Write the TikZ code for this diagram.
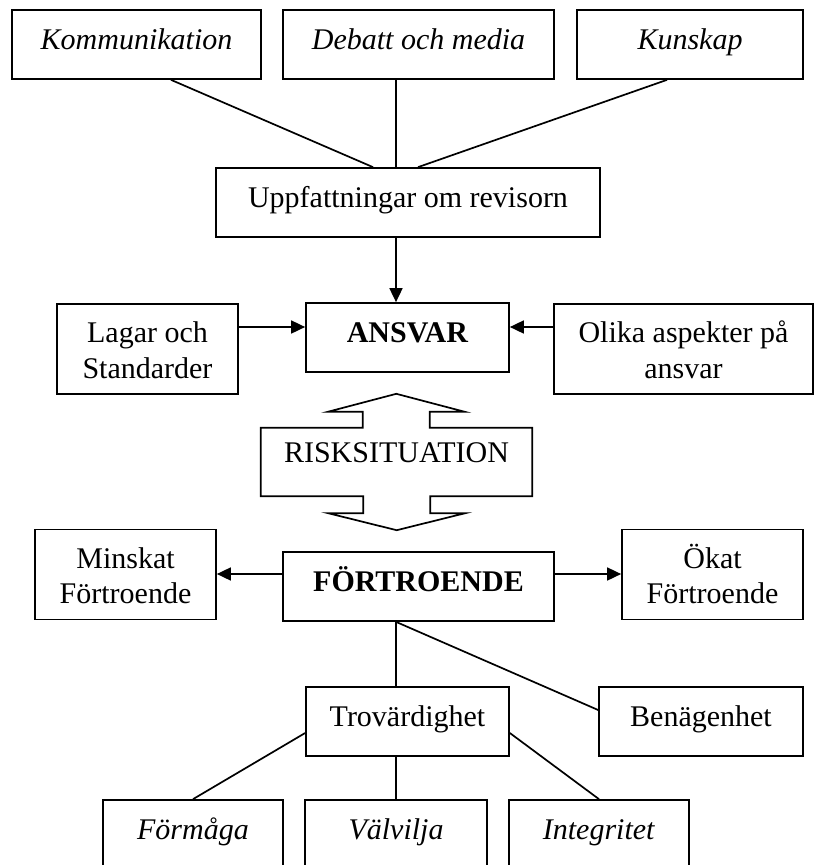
\documentclass[tikz,border=0pt]{standalone}
\usepackage{fontspec}
\setmainfont{Liberation Serif}
\usetikzlibrary{arrows.meta, calc}
\tikzset{
  block/.style={draw, line width=1.7pt, inner xsep=0pt, inner ysep=0pt, align=center, text height=39pt, text depth=30pt},
  block2/.style={block, text height=74pt, text depth=16pt},
  arr/.style={-{Triangle[length=14pt, width=13pt]}, line width=1.7pt},
  link/.style={line width=1.7pt},
  outline/.style={line width=1.7pt, line join=miter}
}
\begin{document}
\begin{tikzpicture}[x=1pt, y=-1pt, font=\fontsize{30}{35.5}\selectfont]
\useasboundingbox (0,0) rectangle (814,865);
\clip (0,0) rectangle (814,865);
% top row
\node[block, minimum width=249pt] (komm) at (136.5,44.5) {\textit{Kommunikation}};
\node[block, minimum width=271pt] (debatt) at (418.5,44.5) {\textit{Debatt och media}};
\node[block, minimum width=226pt] (kunskap) at (690,44.5) {\textit{Kunskap}};
\node[block, minimum width=384pt] (uppf) at (408,202.5) {Uppfattningar om revisorn};
% ansvar row
\node[block, minimum width=203pt] (ansvar) at (407.5,337.5) {\textbf{ANSVAR}};
\node[block2, minimum width=181pt] (lagar) at (147.5,349) {Lagar och\\Standarder};
\node[block2, minimum width=259pt] (olika) at (683.5,349) {Olika aspekter på\\ansvar};
% risk situation
\node[minimum width=271pt, inner sep=0pt, text height=34pt, text depth=34pt] (risk) at (396.5,462) {RISKSITUATION};
\draw[outline] (risk.north west) -- ++(102,0) -- ++(0,-16) -- ++(-35,0) -- ++(68.5,-18) -- ++(68.5,18) -- ++(-35,0) -- ++(0,16)
  -- (risk.north east) -- (risk.south east) -- ++(-102,0) -- ++(0,17) -- ++(35,0) -- ++(-68.5,17) -- ++(-68.5,-17) -- ++(35,0) -- ++(0,-17)
  -- (risk.south west) -- cycle;
% fortroende row
\node[block, minimum width=271pt] (fortr) at (418.5,586.5) {\textbf{FÖRTROENDE}};
\node[block2, minimum width=181pt] (minskat) at (125.5,574.5) {Minskat\\Förtroende};
\node[block2, minimum width=181pt] (okat) at (712.5,574.5) {Ökat\\Förtroende};
\node[block, minimum width=203pt] (trov) at (407.5,721.5) {Trovärdighet};
\node[block, minimum width=204pt] (benag) at (701,721.5) {Benägenhet};
% bottom row
\node[block, minimum width=180pt] (formaga) at (193,834.5) {\textit{Förmåga}};
\node[block, minimum width=182pt] (valvilja) at (396,834.5) {\textit{Välvilja}};
\node[block, minimum width=180pt] (integ) at (599,834.5) {\textit{Integritet}};
% connectors
\draw[link] ([xshift=34.5pt]komm.south) -- ([xshift=-35pt]uppf.north);
\draw[link] ([xshift=-22.5pt]debatt.south) -- ([xshift=-12pt]uppf.north);
\draw[link] ([xshift=-23pt]kunskap.south) -- ([xshift=10pt]uppf.north);
\draw[arr] ([xshift=-12pt]uppf.south) -- ([xshift=-11.5pt]ansvar.north);
\coordinate (ansvarL) at ([yshift=10.5pt]ansvar.west);
\coordinate (ansvarR) at ([yshift=10.5pt]ansvar.east);
\draw[arr] (lagar.east |- ansvarL) -- (ansvarL);
\draw[arr] (olika.west |- ansvarR) -- (ansvarR);
\coordinate (fortrL) at ([yshift=12.5pt]fortr.west);
\coordinate (fortrR) at ([yshift=12.5pt]fortr.east);
\draw[arr] (fortrL) -- (minskat.east |- fortrL);
\draw[arr] (fortrR) -- (okat.west |- fortrR);
\draw[link] ([xshift=-22.5pt]fortr.south) -- ([xshift=-11.5pt]trov.north);
\draw[link] ([xshift=-22.5pt]fortr.south) -- ([yshift=11.5pt]benag.west);
\draw[link] ([yshift=-11.5pt]trov.west) -- (formaga.north);
\draw[link] (trov.south -| valvilja.north) -- (valvilja.north);
\draw[link] ([yshift=-11.5pt]trov.east) -- (integ.north);
\end{tikzpicture}
\end{document}
